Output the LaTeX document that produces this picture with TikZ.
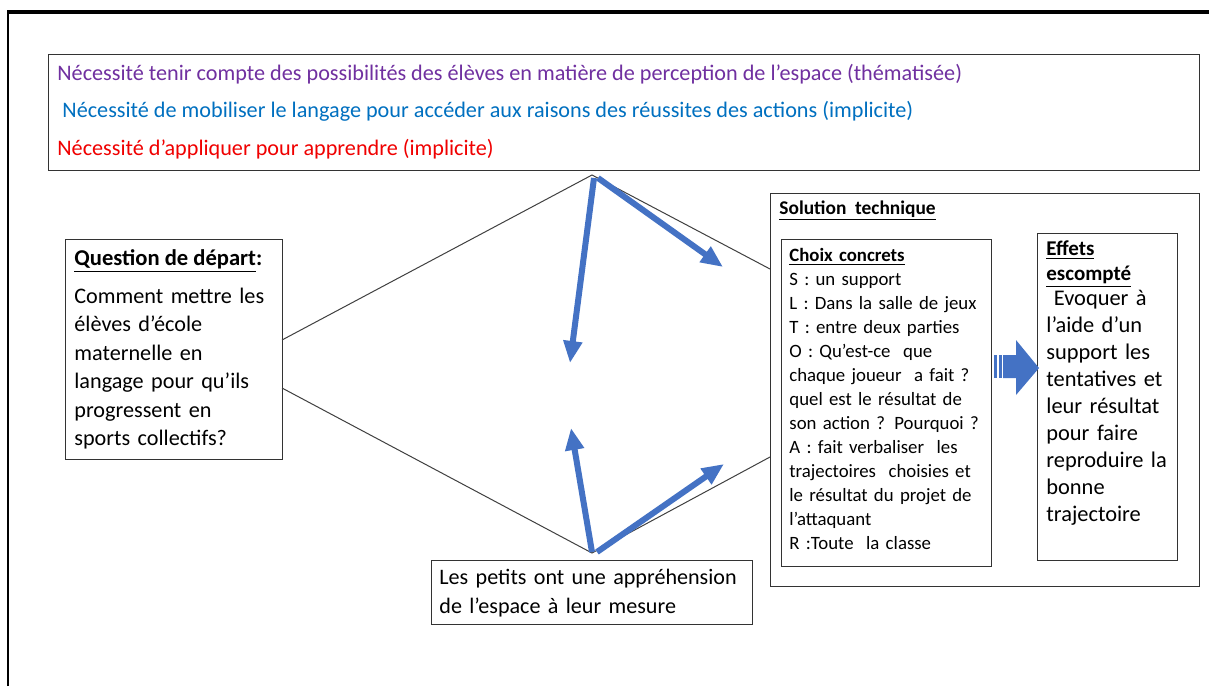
\documentclass[tikz,border=0pt]{standalone}
\usepackage{fontspec}
\setmainfont{Carlito}
\usetikzlibrary{arrows.meta}
\definecolor{cpurple}{HTML}{7030A0}
\definecolor{cblue}{HTML}{0070C0}
\definecolor{cred}{HTML}{F00000}
\definecolor{arrowblue}{HTML}{4472C4}
\newcommand\fsz[2]{\fontsize{#1}{#2}\selectfont}
\begin{document}
\begin{tikzpicture}[x=0.5pt,y=-0.5pt,
  box/.style={draw=black!80, line width=0.7pt, anchor=north west, inner sep=0pt},
  txt/.style={anchor=base west, inner sep=0pt, align=left},
  thinl/.style={draw=black!75, line width=0.5pt},
  barrow/.style={draw=arrowblue, line width=3pt, -{Triangle[length=11pt,width=9pt]}},
]
\useasboundingbox (0,0) rectangle (1209,686);
\fill[white] (0,0) rectangle (1209,686);
% outer frame
\draw[line width=1.2pt] (8,686) -- (8,12);
\draw[line width=2pt] (7.4,12) -- (1209,12);

% top box
\node[box, minimum width=575.5pt, minimum height=58pt] (needs) at (48,54) {};
\node[txt, text=cpurple, font=\fsz{11.1}{13}] (n1) at (57,80) {Nécessité tenir compte des possibilités des élèves en matière de perception de l’espace (thématisée)};
\node[txt, text=cblue, font=\fsz{11.1}{13}] (n2) at (57,117) {\ Nécessité de mobiliser le langage pour accéder aux raisons des réussites des actions (implicite)};
\node[txt, text=cred, font=\fsz{11.1}{13}] (n3) at (57,155) {Nécessité d’appliquer pour apprendre (implicite)};

% question box
\node[box, minimum width=108.5pt, minimum height=110pt] (q) at (65,239) {};
\node[txt, font=\fsz{11.3}{14}\bfseries] (qh) at (74,265) {\underline{Question de départ}:};
\node[txt, text width=100pt, font=\fsz{11.1}{14.25}] (qb) at (74,303) {Comment mettre les\\élèves d’école\\maternelle en\\langage pour qu’ils\\progressent en\\sports collectifs?};

% les petits box
\node[box, minimum width=160.5pt, minimum height=32pt] (p) at (431,560) {};
\node[txt, text width=155pt, font=\fsz{11.05}{14.5}] (pt) at (439,584) {Les petits ont une appréhension\\de l’espace à leur mesure};

% solution box
\node[box, minimum width=214.5pt, minimum height=196.5pt] (sol) at (770,193) {};
\node[txt, font=\fsz{9.7}{12}\bfseries] (solh) at (779,214) {\underline{Solution\ \ technique}};
\node[box, minimum width=105pt, minimum height=163.5pt] (ch) at (781,239) {};
\node[txt, text width=110pt, font=\fsz{9.4}{12}] (cht) at (789,261) {\underline{\textbf{Choix concrets}}\\S : un support\\L : Dans la salle de jeux\\T : entre deux parties\\O : Qu’est-ce\ \ que\\chaque joueur\ \ a fait ?\\quel est le résultat de\\son action ? Pourquoi ?\\A : fait verbaliser\ \ les\\trajectoires\ \ choisies et\\le résultat du projet de\\l’attaquant\\R :Toute\ \ la classe};
\node[box, minimum width=70pt, minimum height=163.5pt] (ef) at (1037,233) {};
\node[txt, text width=66pt, font=\fsz{10.5}{12.5}\bfseries] (efh) at (1046,255) {\underline{Effets}\\\underline{escompté}};
\node[txt, text width=66pt, font=\fsz{11.2}{13.5}] (eft) at (1046,305.5) {\ Evoquer à\\l’aide d’un\\support les\\tentatives et\\leur résultat\\pour faire\\reproduire la\\bonne\\trajectoire};

% block arrow
\fill[arrowblue] (1003,355) -- (1016,355) -- (1016,340) -- (1039,368) -- (1016,395) -- (1016,378) -- (1003,378) -- cycle;
\fill[arrowblue] (994,355) rectangle (997,378);
\fill[arrowblue] (999,355) rectangle (1001.5,378);

% diamond
\coordinate (dtop) at (592,175);
\coordinate (dbot) at (592,553);
\coordinate (qa) at (282,340);
\coordinate (qc) at (282,388);
\coordinate (sa) at (770,269);
\coordinate (sc) at (770,457);
\draw[thinl] (qa) -- (dtop) -- (sa);
\draw[thinl] (qc) -- (dbot) -- (sc);

% blue arrows
\coordinate (t1) at (570,363);
\coordinate (t2) at (723,267);
\coordinate (t3) at (571,428);
\coordinate (t4) at (724,464);
\draw[barrow] (594,178) -- (t1);
\draw[barrow] (598,178) -- (t2);
\draw[barrow] (592,552) -- (t3);
\draw[barrow] (597,552) -- (t4);
\end{tikzpicture}
\end{document}
